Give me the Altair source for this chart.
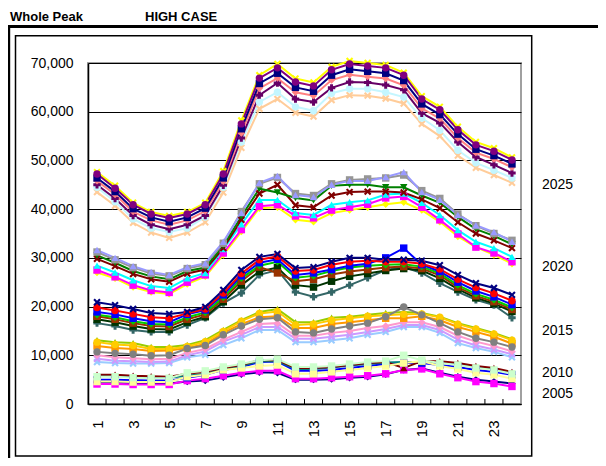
import altair as alt
import pandas as pd

FONT = "Liberation Sans, Arial, sans-serif"

hours = list(range(1, 25))
y_ticks = [0, 10000, 20000, 30000, 40000, 50000, 60000, 70000]
x_labels = [1, 3, 5, 7, 9, 11, 13, 15, 17, 19, 21, 23]
year_labels = ["2025", "2020", "2015", "2010", "2005"]
title_left = "Whole Peak"
title_right = "HIGH CASE"

# ---- values in thousands of MW ----
# 2005 group
y05_navy = [4.4, 4.4, 4.3, 4.2, 4.2, 4.6, 4.8, 5.5, 6.1, 6.5, 6.4, 5.0, 5.0, 5.1, 5.4, 5.6, 6.1, 7.0, 7.3, 6.4, 5.6, 5.0, 4.6, 4.2]
y05_magenta = [4.1, 4.1, 4.0, 4.0, 4.0, 4.8, 5.2, 5.8, 6.4, 6.8, 6.8, 5.2, 5.2, 5.4, 5.6, 5.8, 6.2, 7.0, 7.2, 6.2, 5.4, 4.6, 4.2, 3.6]
y05_blue = [5.0, 5.0, 4.9, 4.8, 4.8, 5.4, 6.0, 7.0, 7.6, 8.6, 8.7, 6.8, 6.8, 7.0, 7.4, 7.8, 8.2, 8.4, 8.4, 8.0, 7.6, 7.0, 6.6, 6.0]
y05_teal = [5.8, 5.7, 5.6, 5.4, 5.4, 5.8, 6.2, 7.2, 7.8, 8.8, 8.8, 7.2, 7.2, 7.5, 7.9, 8.2, 8.5, 8.6, 8.6, 8.6, 8.2, 7.6, 7.1, 6.4]
y05_darkred = [6.0, 6.0, 5.8, 5.7, 5.6, 6.2, 6.6, 7.4, 8.0, 9.0, 9.0, 7.4, 7.4, 7.6, 8.0, 8.4, 8.6, 7.4, 8.8, 8.8, 8.4, 7.8, 7.4, 6.6]
y05_ltyellow = [4.6, 4.6, 4.5, 4.5, 4.5, 5.6, 6.0, 7.0, 7.4, 7.8, 8.0, 6.2, 6.2, 6.6, 7.0, 7.4, 7.8, 8.4, 8.8, 7.8, 7.2, 6.4, 6.0, 5.2]
y05_ltgreen = [5.6, 5.6, 5.4, 5.3, 5.3, 6.4, 6.8, 7.6, 8.2, 9.0, 9.2, 7.6, 7.6, 7.8, 8.2, 8.6, 8.8, 10.0, 9.0, 8.4, 8.0, 7.4, 7.0, 6.2]
# 2010 group
y10_ltblue = [8.6, 8.4, 8.3, 8.3, 8.4, 9.6, 10.1, 12.1, 13.5, 15.2, 15.2, 12.7, 12.7, 13.1, 13.5, 14.2, 14.8, 15.8, 15.8, 14.6, 12.5, 11.5, 10.7, 9.6]
y10_lav = [9.3, 8.9, 8.8, 8.6, 8.7, 10.0, 10.8, 12.8, 14.2, 15.8, 15.8, 13.4, 13.4, 13.8, 14.2, 14.8, 15.4, 16.2, 16.2, 15.2, 13.2, 12.0, 11.2, 10.2]
y10_pink = [10.0, 9.6, 9.4, 9.2, 9.3, 10.5, 11.3, 13.2, 14.8, 16.4, 16.6, 14.0, 14.0, 14.6, 15.0, 15.6, 16.0, 16.8, 16.8, 15.8, 14.0, 12.8, 11.9, 10.8]
y10_orange = [11.9, 11.5, 11.3, 10.9, 11.0, 11.5, 12.3, 14.6, 16.4, 17.8, 18.0, 15.6, 15.6, 16.4, 16.8, 17.2, 17.6, 17.6, 18.0, 17.2, 15.8, 14.8, 13.8, 12.4]
y10_yg = [13.1, 12.7, 12.5, 11.7, 11.7, 12.1, 13.1, 15.2, 17.2, 18.9, 19.5, 16.8, 16.8, 17.7, 17.9, 18.3, 18.7, 18.9, 18.7, 17.9, 16.6, 15.6, 14.6, 13.3]
y10_gold = [12.7, 12.2, 12.0, 11.3, 11.3, 11.8, 12.8, 14.9, 17.0, 18.6, 19.0, 16.2, 16.4, 17.2, 17.6, 18.0, 18.2, 18.4, 18.5, 17.8, 16.4, 15.4, 14.4, 13.1]
y10_gray = [10.7, 10.4, 10.2, 9.9, 10.0, 11.4, 12.0, 14.2, 16.0, 17.4, 17.7, 14.8, 14.6, 15.4, 16.0, 16.6, 17.9, 19.9, 18.3, 16.6, 14.8, 13.5, 12.7, 11.7]
# 2015 group
y15_teal = [16.6, 16.0, 15.2, 14.8, 14.8, 16.2, 17.7, 20.7, 22.8, 26.5, 27.5, 23.0, 22.0, 23.0, 24.4, 25.9, 27.5, 28.1, 26.9, 24.8, 23.0, 21.4, 20.3, 17.7]
y15_dkgreen = [17.4, 16.8, 16.0, 15.4, 15.3, 16.8, 17.9, 21.0, 24.4, 27.2, 28.0, 24.4, 24.0, 25.2, 26.2, 26.8, 27.4, 27.8, 27.4, 25.8, 23.6, 21.8, 20.6, 19.0]
y15_brown = [18.0, 17.4, 16.6, 16.0, 15.9, 17.4, 18.4, 21.5, 25.2, 28.1, 26.9, 25.2, 25.6, 26.6, 27.2, 27.6, 28.0, 28.2, 27.8, 26.4, 24.0, 22.2, 21.0, 19.4]
y15_green = [18.3, 17.8, 17.0, 16.4, 16.3, 17.8, 18.8, 21.9, 25.8, 28.4, 29.2, 25.9, 26.3, 27.3, 28.0, 28.4, 28.6, 28.7, 28.2, 26.8, 24.4, 22.6, 21.4, 19.8]
y15_blue = [18.9, 18.4, 17.6, 17.0, 16.8, 18.4, 19.3, 22.4, 26.3, 29.0, 29.7, 26.5, 26.9, 27.6, 28.4, 28.8, 30.0, 32.0, 28.6, 27.2, 25.0, 23.2, 22.0, 20.4]
y15_red = [19.8, 19.2, 18.5, 17.8, 17.6, 18.6, 19.5, 22.8, 26.8, 29.6, 30.3, 27.3, 27.5, 28.6, 29.2, 29.4, 29.2, 29.2, 28.8, 27.7, 25.6, 23.9, 22.7, 21.2]
y15_navy = [20.9, 20.3, 19.5, 18.7, 18.5, 18.9, 19.9, 23.4, 27.5, 30.2, 30.8, 27.9, 28.1, 29.2, 30.0, 30.0, 29.6, 29.6, 29.4, 28.5, 26.5, 24.8, 23.8, 22.4]
# 2020 group
y20_yellow = [27.0, 25.8, 24.0, 23.0, 22.6, 24.6, 26.2, 30.6, 35.4, 40.2, 40.4, 37.8, 37.4, 39.2, 39.8, 40.4, 41.0, 41.4, 39.8, 37.4, 34.4, 32.2, 30.6, 28.8]
y20_magenta = [27.5, 26.1, 24.4, 23.3, 22.9, 25.0, 26.5, 31.0, 35.8, 40.6, 40.9, 38.6, 38.2, 39.8, 40.4, 41.0, 42.3, 42.6, 40.4, 37.8, 34.9, 32.2, 31.0, 29.2]
y20_cyan = [28.4, 27.0, 25.4, 24.2, 23.8, 25.8, 26.9, 31.8, 36.9, 41.9, 41.9, 39.2, 38.8, 40.9, 41.4, 41.8, 43.0, 43.2, 41.3, 38.8, 35.7, 33.3, 32.0, 30.2]
y20_darkred = [29.8, 28.3, 26.7, 25.6, 25.1, 26.8, 27.6, 32.0, 37.8, 43.2, 45.0, 40.8, 40.4, 42.8, 43.5, 43.6, 43.6, 43.4, 42.0, 40.2, 37.3, 35.0, 33.6, 32.0]
y20_green = [30.5, 29.0, 27.3, 26.2, 25.6, 27.3, 28.0, 32.5, 38.5, 44.2, 43.4, 42.3, 41.8, 44.8, 45.0, 45.0, 44.5, 44.5, 42.8, 41.3, 38.4, 35.9, 34.5, 32.8]
y20_gray = [31.2, 29.6, 28.0, 26.8, 26.3, 27.8, 28.6, 33.0, 39.5, 45.2, 46.5, 43.2, 42.8, 45.2, 46.0, 46.2, 46.4, 47.0, 43.8, 42.2, 39.0, 36.6, 35.0, 33.6]
y20_lav = [31.6, 30.0, 28.3, 27.1, 26.5, 28.1, 28.9, 33.3, 39.2, 45.4, 46.8, 42.9, 42.5, 45.0, 45.8, 45.8, 46.6, 47.6, 43.5, 41.9, 38.8, 36.7, 35.3, 33.3]
# 2025 group
y25_peach = [43.5, 40.7, 37.2, 35.2, 34.1, 35.2, 37.3, 43.4, 52.6, 60.6, 62.6, 59.8, 59.0, 62.4, 63.4, 63.3, 62.7, 61.7, 57.5, 55.0, 51.0, 48.5, 47.0, 45.4]
y25_cyan = [44.5, 41.5, 38.0, 36.1, 35.3, 36.1, 38.4, 44.5, 53.8, 62.0, 64.0, 61.0, 60.2, 63.8, 64.7, 64.7, 64.0, 63.0, 58.7, 56.2, 52.1, 49.5, 48.0, 46.4]
y25_plus = [45.0, 42.2, 38.7, 36.8, 35.9, 36.8, 38.7, 44.9, 54.6, 63.4, 65.9, 62.6, 62.0, 64.9, 66.1, 66.0, 65.5, 64.5, 59.7, 57.7, 53.8, 50.7, 49.1, 47.4]
y25_salmon = [45.8, 43.0, 39.5, 37.7, 36.8, 37.7, 39.6, 45.7, 55.6, 64.8, 66.9, 64.0, 63.3, 66.5, 67.6, 67.2, 66.8, 65.4, 60.7, 58.6, 54.6, 51.6, 50.3, 48.6]
y25_navy = [46.4, 43.6, 40.1, 38.3, 37.4, 38.3, 40.2, 46.4, 56.5, 65.8, 67.9, 65.0, 64.2, 67.5, 68.7, 68.3, 67.9, 66.4, 61.6, 59.4, 55.4, 52.3, 51.0, 49.3]
y25_yellow = [47.6, 44.8, 41.3, 39.4, 38.6, 39.4, 41.3, 47.8, 58.2, 67.5, 69.8, 66.8, 66.0, 69.2, 70.4, 70.0, 69.6, 68.0, 63.2, 61.0, 56.9, 53.8, 52.5, 50.6]
y25_purple = [47.2, 44.3, 40.9, 39.0, 38.2, 39.0, 40.9, 47.2, 57.5, 66.9, 69.0, 66.1, 65.3, 68.6, 69.8, 69.4, 69.0, 67.5, 62.6, 60.4, 56.3, 53.2, 51.9, 50.1]

# ---- styles ----
XSHAPE = "M-1,-0.6L-0.6,-1L0,-0.4L0.6,-1L1,-0.6L0.4,0L1,0.6L0.6,1L0,0.4L-0.6,1L-1,0.6L-0.4,0Z"
series = [
    (y05_navy, "#000080", "diamond"),
    (y05_magenta, "#FF00FF", "square"),
    (y05_blue, "#0000FF", "square"),
    (y05_teal, "#008080", "triangle-up"),
    (y05_darkred, "#800000", "triangle-up"),
    (y05_ltyellow, "#FFFF99", "square"),
    (y05_ltgreen, "#CCFFCC", "square"),
    (y10_ltblue, "#99CCFF", XSHAPE),
    (y10_lav, "#CC99FF", XSHAPE),
    (y10_pink, "#FF99CC", "diamond"),
    (y10_orange, "#FF9900", "square"),
    (y10_yg, "#99CC00", "triangle-up"),
    (y10_gold, "#FFCC00", "circle"),
    (y10_gray, "#808080", "circle"),
    (y15_teal, "#336666", "cross"),
    (y15_dkgreen, "#003300", "square"),
    (y15_brown, "#993300", "square"),
    (y15_green, "#00CC00", "diamond"),
    (y15_blue, "#0000FF", "square"),
    (y15_red, "#FF0000", "circle"),
    (y15_navy, "#000080", XSHAPE),
    (y20_yellow, "#FFFF00", "diamond"),
    (y20_magenta, "#FF00FF", "square"),
    (y20_cyan, "#00FFFF", "triangle-up"),
    (y20_darkred, "#800000", XSHAPE),
    (y20_green, "#008000", "triangle-down"),
    (y20_gray, "#969696", "square"),
    (y20_lav, "#9999FF", "triangle-up"),
    (y25_peach, "#FFCC99", XSHAPE),
    (y25_cyan, "#C4F6FF", "circle"),
    (y25_plus, "#660066", "cross"),
    (y25_salmon, "#FF8080", "diamond"),
    (y25_navy, "#000080", "square"),
    (y25_yellow, "#FFFF00", XSHAPE),
    (y25_purple, "#800080", "circle"),
]

rows = []
names, colors, shapes = [], [], []
for i, (vals, col, shp) in enumerate(series):
    nm = f"s{i:02d}"
    names.append(nm)
    colors.append(col)
    shapes.append(shp)
    for h, v in zip(hours, vals):
        rows.append({"hour": h, "value": v * 1000, "series": nm, "ord": i})
df = pd.DataFrame(rows)

xscale = alt.Scale(domain=[0.5, 24.5], nice=False, zero=False)
yscale = alt.Scale(domain=[0, 70000], nice=False)

x_axis = alt.Axis(values=x_labels, labelAngle=270, ticks=False, grid=False,
                  domainColor="black", domainWidth=1.5, labelPadding=16,
                  labelFont=FONT, labelFontSize=15, labelColor="black",
                  labelFlush=False, labelOverlap=False, title=None)
y_axis = alt.Axis(values=y_ticks, format=",.0f", grid=True, gridColor="black",
                  gridWidth=1, ticks=False, domainColor="black", domainWidth=1.5,
                  labelPadding=15, labelFont=FONT, labelFontSize=14,
                  labelColor="black", title=None)
x_enc = alt.X("hour:Q", scale=xscale, axis=x_axis)
y_enc = alt.Y("value:Q", scale=yscale, axis=y_axis)
color_enc = alt.Color("series:N", scale=alt.Scale(domain=names, range=colors), legend=None)

base = alt.Chart(df)
lines = base.mark_line(strokeWidth=2).encode(x=x_enc, y=y_enc, color=color_enc, order="hour:Q")
points = base.mark_point(filled=True, size=55, opacity=1).encode(
    x=x_enc, y=y_enc, color=color_enc,
    shape=alt.Shape("series:N", scale=alt.Scale(domain=names, range=shapes), legend=None),
)

tick_df = pd.DataFrame({"hour": [h + 0.5 for h in hours[:-1]]})
ticks = alt.Chart(tick_df).mark_rule(color="black", strokeWidth=1).encode(
    x=x_enc, y=alt.value(336), y2=alt.value(341))

one = pd.DataFrame({"k": [0]})
frame_top = alt.Chart(one).mark_rule(color="black", strokeWidth=3).encode(
    x=alt.value(-81), x2=alt.value(510), y=alt.value(-36.5))
frame_left = alt.Chart(one).mark_rule(color="black", strokeWidth=3).encode(
    x=alt.value(-79.3), y=alt.value(-38), y2=alt.value(400))
inner = alt.Chart(one).mark_rect(fillOpacity=0, stroke="black", strokeWidth=1.5).encode(
    x=alt.value(-72.5), x2=alt.value(443.7), y=alt.value(-27.3), y2=alt.value(393))

texts = []
for txt, px, py in [(title_left, -78, -46), (title_right, 57, -46)]:
    texts.append(alt.Chart(pd.DataFrame({"t": [txt]})).mark_text(
        align="left", baseline="middle", font=FONT, fontSize=13, fontWeight="bold",
        color="black").encode(text="t:N", x=alt.value(px), y=alt.value(py)))
for txt, py in zip(year_labels, [122, 204, 268, 310, 331]):
    texts.append(alt.Chart(pd.DataFrame({"t": [txt]})).mark_text(
        align="left", baseline="middle", font=FONT, fontSize=14,
        color="black").encode(text="t:N", x=alt.value(454), y=alt.value(py)))

chart = alt.layer(lines, points, ticks, frame_top, frame_left, inner, *texts).properties(
    width=433, height=341, autosize="none",
    padding={"left": 80, "top": 55, "right": 77, "bottom": 54},
).configure_view(stroke="#A0A0A0", strokeWidth=2)

chart.save("out.html", embed_options={"renderer": "svg", "actions": False})
